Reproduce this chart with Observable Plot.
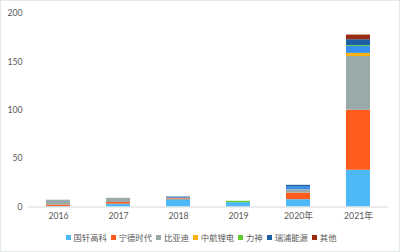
<!DOCTYPE html>
<html><head><meta charset="utf-8">
<script src="https://cdn.jsdelivr.net/npm/d3@7"></script>
<script src="https://cdn.jsdelivr.net/npm/@observablehq/plot@0.6"></script>
<style>
html,body{margin:0;padding:0;background:#fff;}
#wrap{width:400px;height:252px;box-sizing:border-box;border:1px solid #e3e8e8;position:relative;overflow:hidden;font-family:Lato,"Noto Sans CJK SC",sans-serif;}
#legend{position:absolute;left:0;top:230px;width:400px;display:flex;justify-content:center;gap:4px;font-size:8.3px;color:#595959;font-family:"Noto Sans CJK SC",sans-serif;}
#legend span.sw{display:inline-block;width:5px;height:5px;margin-right:3px;vertical-align:middle;position:relative;top:-1px;}
</style></head>
<body><div id="wrap"><div id="chart"></div><div id="legend"></div></div>
<script>
const years = ["2016","2017","2018","2019","2020年","2021年"];
const seriesNames = ["国轩高科","宁德时代","比亚迪","中航锂电","未标注","力神","瑞浦能源","其他"];
const legendNames = ["国轩高科","宁德时代","比亚迪","中航锂电","力神","瑞浦能源","其他"];
const guoxuan  = [0.5, 3.0, 7.5, 4.5, 7.6, 38];
const ningde   = [1.5, 1.7, 1.0, 0,   6.8, 62];
const biyadi   = [5.0, 4.3, 0.8, 0,   3.5, 55.5];
const zhonghang= [0,   0,   0,   0,   0,   3.3];
const unlabeled= [0,   0,   0,   0,   2.7, 7.2];
const lishen   = [0,   0,   0,   1.4, 0,   0.9];
const ruipu    = [0,   0,   1.0, 0,   1.8, 6.0];
const qita     = [0,   0,   0,   0,   0,   4.8];
const yTicks = [0, 50, 100, 150, 200];
const colors = ["#4cb9f6","#ff5b1c","#9aa9aa","#ffb20a","#3590ef","#62cc2e","#1d5fa6","#9a2b12"];

const seriesValues = [guoxuan, ningde, biyadi, zhonghang, unlabeled, lishen, ruipu, qita];
const data = [];
years.forEach((y, i) => seriesNames.forEach((s, j) => data.push({year: y, series: s, value: seriesValues[j][i]})));

const chart = Plot.plot({
  width: 398, height: 226,
  marginLeft: 27, marginRight: 11, marginTop: 12, marginBottom: 20.5,
  style: {fontFamily: 'Lato,"Noto Sans CJK SC",sans-serif', fontSize: "8.7px", color: "#595959", background: "transparent"},
  x: {domain: years, paddingInner: 0.6, paddingOuter: 0.3, label: null, tickSize: 0, tickPadding: 6},
  y: {domain: [0, 200], ticks: yTicks, label: null, tickSize: 0, tickPadding: 6},
  color: {domain: seriesNames, range: colors},
  marks: [
    Plot.barY(data, {x: "year", y: "value", fill: "series"}),
    Plot.ruleY([0], {stroke: "#d9d9d9"})
  ]
});
document.getElementById("chart").appendChild(chart);

const lg = document.getElementById("legend");
legendNames.forEach(n => {
  const c = colors[seriesNames.indexOf(n)];
  const d = document.createElement("div");
  d.innerHTML = `<span class="sw" style="background:${c}"></span>${n}`;
  lg.appendChild(d);
});
</script></body></html>
